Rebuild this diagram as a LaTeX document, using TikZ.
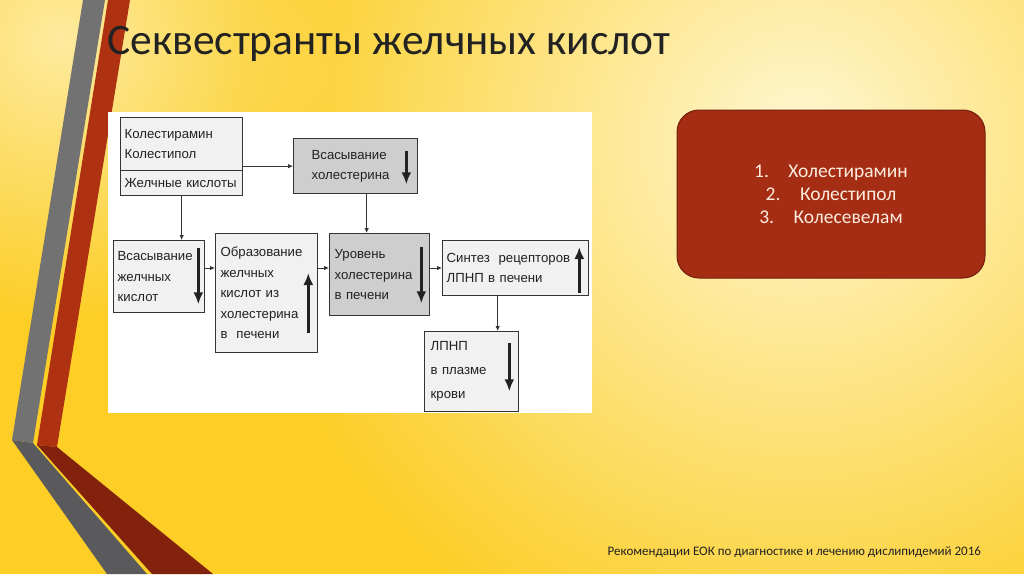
\documentclass[tikz,border=0pt]{standalone}
\usepackage{fontspec}
\setmainfont{Liberation Sans}
\newfontfamily\slidefont{Carlito}
\usepackage{tikz}
\usetikzlibrary{arrows.meta,positioning,fadings}
\definecolor{bgyellow}{RGB}{252,206,38}
\definecolor{bgpale}{RGB}{255,247,210}
\definecolor{stripegray}{RGB}{114,114,114}
\definecolor{stripegraydark}{RGB}{90,90,92}
\definecolor{stripered}{RGB}{174,50,18}
\definecolor{stripereddark}{RGB}{130,34,12}
\definecolor{panelred}{RGB}{164,45,20}
\definecolor{panelline}{RGB}{112,32,12}
\definecolor{paneltext}{RGB}{252,236,222}
\definecolor{boxgray}{RGB}{206,206,206}
\definecolor{boxlight}{RGB}{241,241,241}
\definecolor{boxline}{RGB}{52,52,52}
\definecolor{inktext}{RGB}{34,34,34}
\tikzfading[name=glow, inner color=transparent!0, outer color=transparent!100]

\begin{document}
\begin{tikzpicture}[
  x=1pt, y=-1pt,
  box/.style={draw=boxline, line width=1.3pt, fill=boxlight, anchor=north west, align=left,
    inner xsep=4pt, inner ysep=3pt, text=inktext, font=\fontsize{13.2}{20.5}\selectfont},
  greybox/.style={box, fill=boxgray},
  arr/.style={-{Latex[length=5pt,width=4.5pt]}, line width=0.8pt, draw=boxline},
  trend/.style={-{Latex[length=12pt,width=10pt]}, line width=2.8pt, draw=inktext},
  panel/.style={draw=panelline, line width=1pt, fill=panelred, rounded corners=22pt, align=center,
    text=paneltext, font=\slidefont\fontsize{19.5}{23}\selectfont}
]
\useasboundingbox (0,0) rectangle (1024,574);
% slide background
\begin{scope}
\clip (0,0) rectangle (1024,574);
\fill[bgyellow] (0,0) rectangle (1024,574);
\fill[bgpale, path fading=glow] (800,140) circle (560);
\fill[bgpale, path fading=glow, opacity=0.7] (60,40) circle (280);
\end{scope}

% side stripes
\fill[stripegray] (83,0) -- (105,0) -- (33,443) -- (12,440) -- cycle;
\fill[stripegraydark] (12,440) -- (33,443) -- (147,574) -- (107,574) -- cycle;
\fill[stripered] (108,0) -- (130,0) -- (57,447) -- (37,445) -- cycle;
\fill[stripereddark] (37,445) -- (57,447) -- (213,574) -- (152,574) -- cycle;

% title and source
\node[anchor=base west, text=inktext, inner sep=0pt, font=\slidefont\fontsize{43.5}{44}\selectfont]
  (title) at (107,54) {Секвестранты желчных кислот};
\node[anchor=base east, text=inktext, inner sep=0pt, font=\slidefont\fontsize{13}{14}\selectfont]
  (source) at (981,555) {Рекомендации ЕОК по диагностике и лечению дислипидемий 2016};

% scheme
\fill[white] (108,112) rectangle (592,413);

\node[box, text width=114pt, minimum height=53pt] (drugs) at (120,117) {Колестирамин\\Колестипол};
\node[box, text width=114pt, minimum height=25pt, anchor=north] (acids) at ([yshift=1.3pt]drugs.south) {Желчные кислоты};
\node[greybox, inner xsep=18pt, text width=88pt, minimum height=55pt] (cholabs) at (293,138) {Всасывание\\холестерина};
\node[box, text width=83pt, minimum height=72pt] (acidabs) at (113,240) {Всасывание\\желчных\\кислот};
\node[box, inner xsep=5pt, text width=92pt, minimum height=119pt] (synth) at (215,233)
  {Образование\\желчных\\кислот из\\холестерина\\в~~печени};
\node[greybox, inner xsep=5pt, text width=90pt, minimum height=82pt] (level) at (329,233)
  {Уровень\\холестерина\\в печени};
\node[box, text width=138pt, minimum height=55pt] (recept) at (442,240) {Синтез~~рецепторов\\ЛПНП в печени};
\node[box, inner xsep=6pt, text width=82pt, minimum height=80pt, font=\fontsize{13.2}{24}\selectfont]
  (plasma) at (424,331) {ЛПНП\\в плазме\\крови};

\coordinate (row) at (0,268);
\draw[arr] (drugs.east |- cholabs.west) -- (cholabs.west);
\draw[arr] (acids.south) -- (acids.south |- acidabs.north);
\draw[arr] ([xshift=11pt]cholabs.south) -- ([xshift=11pt]cholabs.south |- level.north);
\draw[arr] (acidabs.east |- row) -- (synth.west |- row);
\draw[arr] (synth.east |- row) -- (level.west |- row);
\draw[arr] (level.east |- row) -- (recept.west |- row);
\draw[arr] ([xshift=-18pt]recept.south) -- ([xshift=-18pt]recept.south |- plasma.north);

% up / down trends
\draw[trend] ([xshift=-12pt,yshift=-13pt]cholabs.north east) -- ([xshift=-12pt,yshift=10pt]cholabs.south east);
\draw[trend] ([xshift=-7pt,yshift=-8pt]acidabs.north east) -- ([xshift=-7pt,yshift=9pt]acidabs.south east);
\draw[trend] ([xshift=-10pt,yshift=20pt]synth.south east) -- ([xshift=-10pt,yshift=-40pt]synth.north east);
\draw[trend] ([xshift=-9pt,yshift=-14pt]level.north east) -- ([xshift=-9pt,yshift=13pt]level.south east);
\draw[trend] ([xshift=-10pt,yshift=3pt]recept.south east) -- ([xshift=-10pt,yshift=-7pt]recept.north east);
\draw[trend] ([xshift=-10pt,yshift=-12pt]plasma.north east) -- ([xshift=-10pt,yshift=21pt]plasma.south east);

% drug list
\node[panel, minimum width=308pt, minimum height=168pt] (druglist) at (831,194)
  {1.\hspace{1em}Холестирамин\\2.\hspace{1em}Колестипол\\3.\hspace{1em}Колесевелам};
\end{tikzpicture}
\end{document}
